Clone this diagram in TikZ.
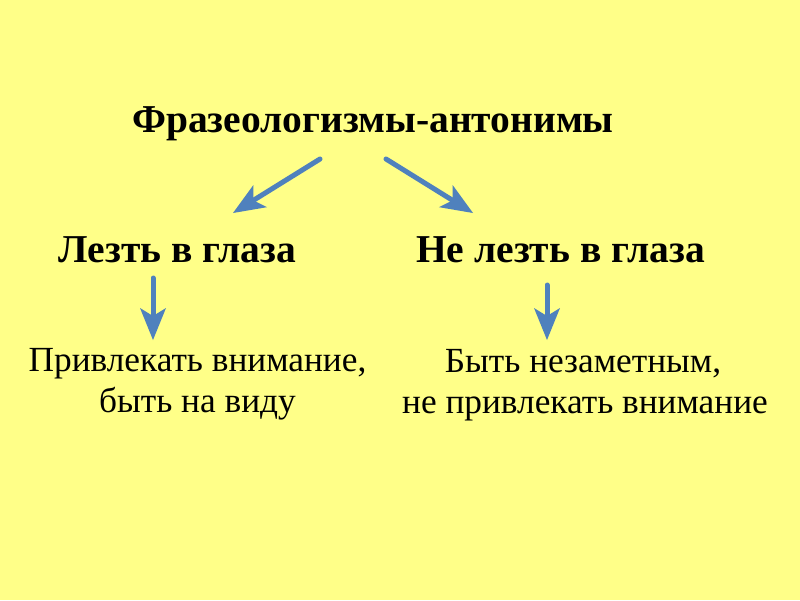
\documentclass[tikz,border=0pt]{standalone}
\usepackage{fontspec}
\setmainfont{Liberation Serif}
\usetikzlibrary{arrows.meta}
\definecolor{bgyellow}{HTML}{FFFF88}
\definecolor{arrowblue}{HTML}{4F81BD}
\tikzset{
  title/.style={anchor=base, inner sep=0pt, font=\fontsize{39.5}{44}\selectfont\bfseries},
  term/.style={anchor=base, inner sep=0pt, font=\fontsize{39.5}{44}\selectfont\bfseries},
  meaning/.style={anchor=base, inner sep=0pt, font=\fontsize{35.3}{41}\selectfont},
  arr/.style={draw=arrowblue, line width=5pt, line cap=round,
    -{Stealth[length=32pt, width=26pt, inset=8pt, line width=0pt]}}
}
\begin{document}
\begin{tikzpicture}[x=1pt, y=-1pt]
\fill[bgyellow] (0,0) rectangle (800,600);
\useasboundingbox (0,0) rectangle (800,600);
\node[title] (t) at (373,132) {Фразеологизмы-антонимы};
\node[term] (l) at (177.5,262) {Лезть в глаза};
\node[term] (r) at (560.5,262) {Не лезть в глаза};
\node[meaning] (l1) at (197.5,371) {Привлекать внимание,};
\node[meaning] (l2) at (197.5,412) {быть на виду};
\node[meaning] (r1) at (583,372) {Быть незаметным,};
\node[meaning] (r2) at (585,413) {не привлекать внимание};
\coordinate (a1s) at (320,159);
\coordinate (a1e) at (233,213);
\coordinate (a2s) at (386,159);
\coordinate (a2e) at (473,213);
\coordinate (a3s) at (153,278);
\coordinate (a3e) at (153,340);
\coordinate (a4s) at (547,285);
\coordinate (a4e) at (547,340);
\draw[arr] (a1s) -- (a1e);
\draw[arr] (a2s) -- (a2e);
\draw[arr] (a3s) -- (a3e);
\draw[arr] (a4s) -- (a4e);
\end{tikzpicture}
\end{document}
